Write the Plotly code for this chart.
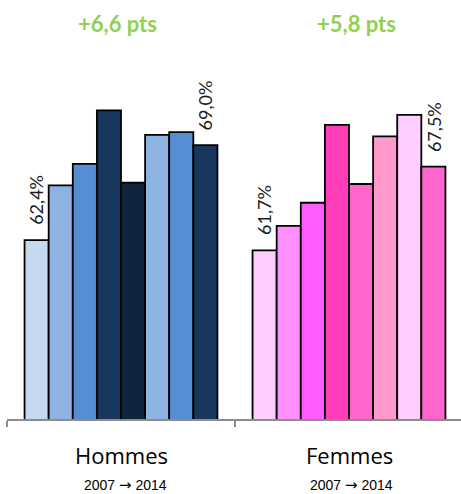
import plotly.graph_objects as go

# Employment rate by sex, one bar per year (2007 -> 2014)
groups = ["Hommes", "Femmes"]
years = ["2007", "2008", "2009", "2010", "2011", "2012", "2013", "2014"]
hommes = [62.4, 66.2, 67.7, 71.4, 66.4, 69.7, 69.9, 69.0]
femmes = [61.7, 63.4, 65.0, 70.4, 66.3, 69.6, 71.1, 67.5]
hommes_colors = ["#C6D9F1", "#8EB4E3", "#558ED5", "#17375E",
                 "#10233F", "#8EB4E3", "#558ED5", "#17375E"]
femmes_colors = ["#FFCCFF", "#FF8FFF", "#FF5CFF", "#FF3DB8",
                 "#FF66CC", "#FF99CC", "#FFCCFF", "#FF66CC"]
gains = ["+6,6 pts", "+5,8 pts"]
period = ("2007 <span style='font-family:DejaVu Sans;font-size:15px'>"
          "\u2192</span> 2014")

BARGAP = 0.154
Y_MIN, Y_MAX = 50, 74.9

fig = go.Figure()
for i, yr in enumerate(years):
    fig.add_trace(go.Bar(
        name=yr,
        x=groups,
        y=[hommes[i], femmes[i]],
        marker=dict(color=[hommes_colors[i], femmes_colors[i]],
                    line=dict(color="#000000", width=1.8)),
        showlegend=False,
        hoverinfo="skip",
    ))

annotations = []
n = len(years)
bar_w = (1 - BARGAP) / n


def bar_center(g, i):
    return g - (1 - BARGAP) / 2 + bar_w * (i + 0.5)


# value labels on first and last year of each group
for g, vals in enumerate([hommes, femmes]):
    for i in (0, n - 1):
        annotations.append(dict(
            x=bar_center(g, i), y=vals[i], xref="x", yref="y",
            text=f"{vals[i]:.1f}%".replace(".", ","),
            textangle=-90, showarrow=False,
            xanchor="center", yanchor="bottom", yshift=13,
            font=dict(family="Lato", size=18, color="#1a1a1a"),
        ))

# gain headline above each group
for g, txt in enumerate(gains):
    annotations.append(dict(
        x=g, y=1.103, xref="x", yref="paper", text=f"<b>{txt}</b>",
        showarrow=False, xanchor="center", yanchor="middle",
        xshift=[-4, 7][g],
        font=dict(family="Lato", size=22, color="#92D050"),
    ))

# group names and period under the axis
for g, name in enumerate(groups):
    annotations.append(dict(
        x=g, y=-0.1, xref="x", yref="paper", text=name,
        showarrow=False, xanchor="center", yanchor="middle",
        font=dict(family="Open Sans", size=22, color="#000000"),
    ))
    annotations.append(dict(
        x=g, y=-0.183, xref="x", yref="paper", text=period,
        showarrow=False, xanchor="center", yanchor="middle",
        xshift=[4, 2][g], borderpad=0,
        font=dict(family="Liberation Sans", size=14, color="#000000"),
    ))

fig.update_layout(
    width=461, height=494,
    margin=dict(l=7, r=0, t=60, b=75),
    paper_bgcolor="white", plot_bgcolor="white",
    barmode="group", bargap=BARGAP, bargroupgap=0,
    annotations=annotations,
    xaxis=dict(
        type="category", range=[-0.5, -0.5 + 454 / 228],
        showline=True, linecolor="#8C8C8C", linewidth=1.5,
        ticks="outside", tickson="boundaries", ticklen=6,
        tickcolor="#8C8C8C", tickwidth=1.5,
        showticklabels=False, showgrid=False, zeroline=False,
    ),
    yaxis=dict(
        range=[Y_MIN, Y_MAX], visible=False,
        showgrid=False, zeroline=False,
    ),
)

fig.write_html("out.html")
